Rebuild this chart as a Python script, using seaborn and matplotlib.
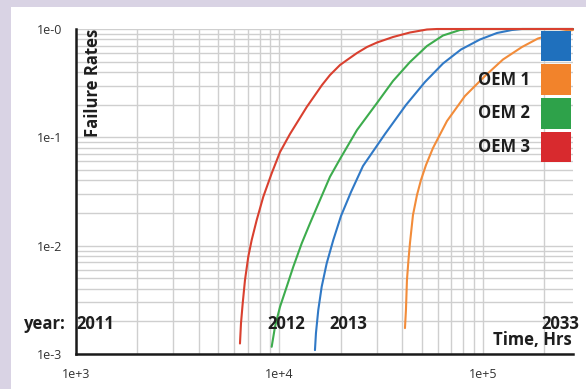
import matplotlib.pyplot as plt
from matplotlib.patches import Patch, Rectangle
from matplotlib.ticker import NullFormatter
import seaborn as sns

# curves: time in hours, cumulative failure rate
red_t = [6395, 6469, 6595, 6768, 7025, 7300, 7727, 8325, 9155, 10060, 11260, 13610, 16180,
         17710, 19830, 21470, 24040, 26920, 30140, 36130, 43780, 53060, 59430, 277000]
red_f = [0.00125, 0.00192, 0.00293, 0.00481, 0.0079, 0.01126, 0.01723, 0.02828, 0.04652,
         0.07314, 0.1073, 0.1905, 0.304, 0.376, 0.4651, 0.5173, 0.6004, 0.682, 0.7502,
         0.8434, 0.9284, 0.9894, 1.0, 1.0]

green_t = [9155, 9504, 10060, 10850, 11690, 12860, 14120, 15810, 17710, 19830, 24040, 30140,
           36130, 43780, 53060, 63610, 77090, 86330, 277000]
green_f = [0.001165, 0.001783, 0.002727, 0.004173, 0.006386, 0.0105, 0.01606, 0.02637,
           0.04327, 0.06304, 0.1168, 0.2074, 0.3311, 0.4957, 0.6966, 0.871, 0.979, 1.0, 1.0]

blue_t = [14940, 15110, 15510, 16120, 17060, 18380, 20050, 22460, 25720, 33000, 41830, 51880,
          63610, 77960, 96670, 117200, 138800, 155500, 277000]
blue_f = [0.001086, 0.00156, 0.002543, 0.004173, 0.006865, 0.01126, 0.01876, 0.03125,
          0.05433, 0.1073, 0.1987, 0.3241, 0.4802, 0.6465, 0.80, 0.9185, 0.979, 1.0, 1.0]

orange_t = [41370, 41830, 42310, 43040, 43780, 45290, 47390, 49580, 52480, 56790, 66550,
            81550, 102300, 125400, 155500, 186300, 238900, 277000]
orange_f = [0.001734, 0.002543, 0.004814, 0.007362, 0.01057, 0.01916, 0.02932, 0.04033,
            0.05549, 0.07964, 0.1414, 0.2406, 0.3681, 0.5229, 0.682, 0.8172, 0.9382, 0.979]

x_ticks = [1e3, 1e4, 1e5, 277000]
x_tick_labels = ['1e+3', '1e+4', '1e+5', '']
y_ticks = [1e-3, 1e-2, 1e-1, 1]
y_tick_labels = ['1e-3', '1e-2', '1e-1', '1e-0']

years = ['2011', '2012', '2013', '2033']
year_hours = [1000, 8760, 17520, 192720]

legend_labels = ['', 'OEM 1', 'OEM 2', 'OEM 3']
legend_colors = ['#1f70bd', '#f2832b', '#2ea24a', '#d82a2e']

sns.set_style('white')
plt.rcParams['font.family'] = ['Open Sans', 'DejaVu Sans']

fig = plt.figure(figsize=(5.86, 3.89), dpi=100, facecolor='#d9d3e4')
fig.patches.append(Rectangle((11 / 586, 0), 1, 1 - 7 / 389, transform=fig.transFigure,
                             facecolor='white', edgecolor='none', zorder=-1))
ax = fig.add_axes([76 / 586, 1 - 354 / 389, 497 / 586, 325 / 389])
ax.set_xscale('log')
ax.set_yscale('log')

series = [(orange_t, orange_f, '#f28c3a'), (blue_t, blue_f, '#3079c6'),
          (green_t, green_f, '#3dac4d'), (red_t, red_f, '#d9402f')]
for t, f, c in series:
    sns.lineplot(x=t, y=f, color=c, lw=1.5, ax=ax, sort=False, estimator=None,
                 clip_on=False, zorder=3, solid_joinstyle='round')

ax.set_xlim(1e3, 277000)
ax.set_ylim(1e-3, 1)
ax.set_xticks(x_ticks)
ax.set_xticklabels(x_tick_labels)
ax.set_yticks(y_ticks)
ax.set_yticklabels(y_tick_labels)
ax.xaxis.set_minor_formatter(NullFormatter())
ax.yaxis.set_minor_formatter(NullFormatter())
ax.set_xlabel('')
ax.set_ylabel('')

sns.despine(ax=ax)
for s in ['left', 'bottom']:
    ax.spines[s].set_linewidth(1.8)
    ax.spines[s].set_color('#1a1a1a')
ax.tick_params(which='major', direction='out', length=7, width=1.8, color='#1a1a1a',
               labelsize=9, labelcolor='#333333', pad=3)
ax.tick_params(which='minor', length=0)
ax.set_axisbelow(True)
ax.grid(which='both', color='#cfcfcf', lw=1.0)
ax.get_xgridlines()[-1].set_visible(False)

# labels
bold = dict(fontweight='bold', color='#1e1e1e', fontsize=12)
ax.text(0.016, 1.0, 'Failure Rates', rotation=90, ha='left', va='top',
        transform=ax.transAxes, **bold)
for yr, h in zip(years, year_hours):
    ax.text(h, 0.0019, yr, ha='left', va='center', **bold)
ax.annotate('year:', (1000, 0.0019), xytext=(-10, 0), textcoords='offset pixels',
            ha='right', va='center', **bold)
ax.text(0.997, 0.043, 'Time, Hrs', ha='right', va='center', transform=ax.transAxes, **bold)

handles = [Patch(facecolor=c, edgecolor='none') for c in legend_colors]
leg = ax.legend(handles, legend_labels, loc='upper right', bbox_to_anchor=(1.0, 1.0),
                frameon=False, markerfirst=False, handlelength=1.8, handleheight=2.45,
                labelspacing=0.18, borderpad=0, borderaxespad=0.1, handletextpad=0.7,
                prop={'family': 'Open Sans', 'weight': 'bold', 'size': 12})
for txt in leg.get_texts():
    txt.set_color('#1e1e1e')
leg.set_zorder(5)

plt.savefig('out.png', dpi=100, facecolor=fig.get_facecolor())
